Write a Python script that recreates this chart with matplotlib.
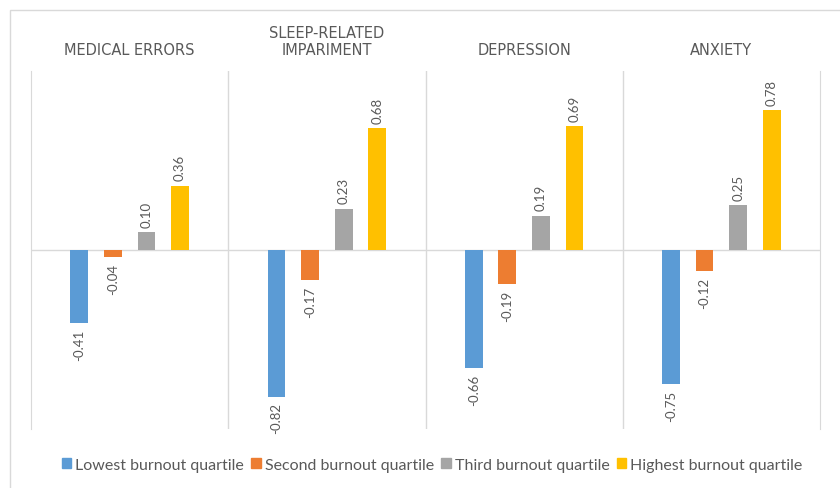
import matplotlib
matplotlib.use('Agg')
import matplotlib.pyplot as plt
from matplotlib.patches import Rectangle, Patch

categories = ['MEDICAL ERRORS', 'SLEEP-RELATED\nIMPARIMENT', 'DEPRESSION', 'ANXIETY']
series_names = ['Lowest burnout quartile', 'Second burnout quartile',
                'Third burnout quartile', 'Highest burnout quartile']
lowest = [-0.41, -0.82, -0.66, -0.75]
second = [-0.04, -0.17, -0.19, -0.12]
third = [0.10, 0.23, 0.19, 0.25]
highest = [0.36, 0.68, 0.69, 0.78]
colors = ['#5b9bd5', '#ed7d31', '#a5a5a5', '#ffc000']

plt.rcParams['font.family'] = ['Lato', 'DejaVu Sans']

fig = plt.figure(figsize=(8.4, 4.89), dpi=100)
W, H = 840, 489
# axes box in pixels: x 31..820, y 72..430
ax = fig.add_axes([31 / W, 1 - 430 / H, (820 - 31) / W, (430 - 72) / H])

# light frame like the pasted chart area
fig.patches.append(Rectangle((10 / W, -0.1), 1.2, 1 - 11 / H + 0.1, transform=fig.transFigure,
                             fill=False, edgecolor='#d9d9d9', linewidth=1.0))

all_series = [lowest, second, third, highest]
offsets = [-0.255, -0.085, 0.085, 0.255]
width = 0.09

for s, vals in enumerate(all_series):
    xs = [i + offsets[s] for i in range(len(categories))]
    ax.bar(xs, vals, width=width, color=colors[s], zorder=3)
    for x, v in zip(xs, vals):
        if v >= 0:
            ax.annotate('%.2f' % v, (x, v), xytext=(0, 4), textcoords='offset points',
                        rotation=90, ha='center', va='bottom', fontsize=9.5, color='#595959')
        else:
            ax.annotate('%.2f' % v, (x, v), xytext=(0, -4), textcoords='offset points',
                        rotation=90, ha='center', va='top', fontsize=9.5, color='#595959')

for b in [0.5, 1.5, 2.5]:
    ax.axvline(b, color='#d9d9d9', linewidth=1.0, zorder=1)
ax.axhline(0, color='#d9d9d9', linewidth=1.0, zorder=2)

ax.set_xlim(-0.5, 3.5)
ax.set_ylim(-1, 1)
ax.set_xticks([])
ax.set_yticks([])
for side in ['top', 'bottom']:
    ax.spines[side].set_visible(False)
for side in ['left', 'right']:
    ax.spines[side].set_color('#d9d9d9')

for i, c in enumerate(categories):
    ax.annotate(c, (i, 1), xycoords=('data', 'axes fraction'), xytext=(0, 10),
                textcoords='offset points', ha='center', va='bottom', fontsize=10.5,
                family=['DejaVu Sans'], color='#595959', linespacing=1.2)

handles = [Patch(color=colors[s]) for s in range(4)]
fig.legend(handles, series_names, loc='center', bbox_to_anchor=(432 / W, 1 - 466 / H),
           ncol=4, frameon=False, fontsize=11.5, labelcolor='#595959',
           handlelength=0.6, handleheight=0.6, handletextpad=0.25, columnspacing=0.45)

fig.savefig('out.png', dpi=100, facecolor='white')
